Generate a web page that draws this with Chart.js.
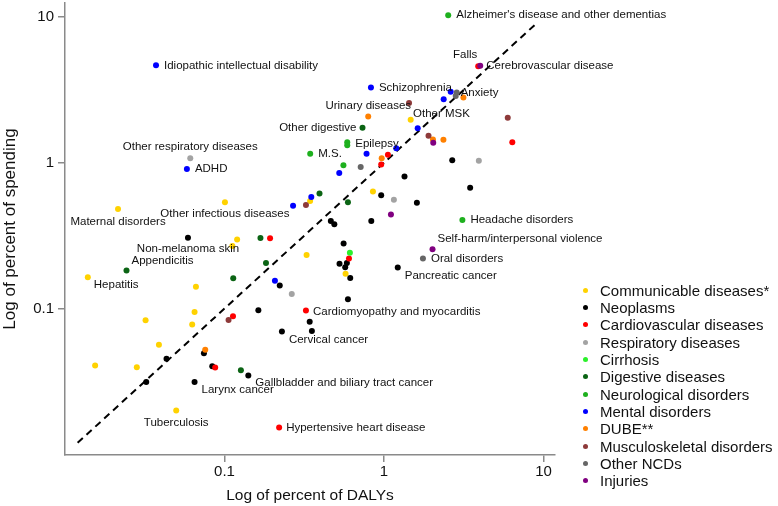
<!DOCTYPE html>
<html lang="en">
<head>
<meta charset="utf-8">
<title>Spending vs DALYs</title>
<script src="https://cdn.jsdelivr.net/npm/chart.js@4"></script>
<style>
  body { margin: 0; background: #fff; }
  .wrap { position: relative; width: 778px; height: 506px; overflow: hidden; }
  #legend {
    position: absolute; left: 578px; top: 281.5px; margin: 0; padding: 0; list-style: none;
    font: 15px "Liberation Sans", Arial, Helvetica, sans-serif; color: #111;
  }
  #legend li { display: flex; align-items: center; height: 17.35px; white-space: nowrap; }
  #legend .dot { width: 5px; height: 5px; border-radius: 50%; margin: 0 12.5px 0 4.5px; }
</style>
</head>
<body>
<div class="wrap">
  <canvas id="scatter"></canvas>
  <ul id="legend"></ul>
</div>

<script>
// categories and colours
const categories = ["Communicable diseases*", "Neoplasms", "Cardiovascular diseases", "Respiratory diseases",
  "Cirrhosis", "Digestive diseases", "Neurological disorders", "Mental disorders", "DUBE**",
  "Musculoskeletal disorders", "Other NCDs", "Injuries"];
const colors = ["#ffd200", "#000000", "#ff0000", "#a3a3a3", "#2bf02b", "#0b6414", "#1eb01e",
  "#0000ff", "#ff8000", "#8e3a3a", "#666666", "#800080"];

// percent of DALYs (x) and percent of spending (y), one pair of arrays per category
const communicableDalys = [0.1006, 0.0215, 0.0139, 0.0498, 0.120, 0.112, 0.327, 0.0662, 0.0649, 0.0320, 0.0627, 0.0388, 0.01545, 0.0282, 0.344, 0.852, 0.574, 1.469];
const communicableSpending = [0.536, 0.481, 0.164, 0.0200, 0.297, 0.268, 0.233, 0.141, 0.0948, 0.0832, 0.0778, 0.0565, 0.0406, 0.0396, 0.547, 0.634, 0.173, 1.968];

const neoplasmDalys = [0.0590, 0.141, 0.0649, 0.229, 1.219, 0.163, 0.222, 0.342, 0.353, 0.0743, 0.0433, 0.0838, 0.0323, 0.464, 0.488, 0.832, 0.960, 0.558, 0.526, 0.585, 0.571, 0.614, 0.594, 1.344, 1.607, 2.677, 3.467];
const neoplasmSpending = [0.306, 0.0348, 0.0313, 0.0697, 0.191, 0.0974, 0.144, 0.0811, 0.0700, 0.0493, 0.0453, 0.0402, 0.0313, 0.398, 0.378, 0.398, 0.598, 0.279, 0.203, 0.205, 0.192, 0.162, 0.116, 0.804, 0.531, 1.038, 0.673];

const cardioDalys = [3.895, 0.324, 0.220, 0.193, 0.113, 0.0874, 0.603, 1.058, 0.960, 6.37];
const cardioSpending = [4.59, 0.0969, 0.0153, 0.303, 0.0886, 0.0394, 0.220, 1.132, 0.971, 1.382];

const respiratoryDalys = [0.0610, 0.264, 1.153, 3.93];
const respiratorySpending = [1.075, 0.126, 0.558, 1.033];

const cirrhosisDalys = [0.611];
const cirrhosisSpending = [0.241];

const digestiveDalys = [0.733, 0.0243, 0.168, 0.182, 0.1134, 0.1267, 0.394, 0.594];
const digestiveSpending = [1.740, 0.182, 0.305, 0.205, 0.161, 0.0378, 0.614, 0.536];

const neuroDalys = [2.526, 0.3445, 0.588, 3.10, 0.588, 0.5565];
const neuroSpending = [10.26, 1.150, 1.382, 0.405, 1.318, 0.960];

const mentalDalys = [0.0372, 0.0581, 0.828, 2.618, 0.207, 0.350, 0.269, 0.777, 0.524, 1.193, 2.366, 1.626];
const mentalSpending = [4.65, 0.904, 3.277, 3.06, 0.155, 0.583, 0.506, 1.154, 0.849, 1.254, 2.72, 1.721];

const dubeDalys = [0.796, 0.0757, 0.967, 3.146, 2.026, 2.357];
const dubeSpending = [2.078, 0.0522, 1.075, 2.80, 1.441, 1.435];

const mskDalys = [1.435, 0.106, 0.324, 1.901, 5.966];
const mskSpending = [2.569, 0.0836, 0.512, 1.530, 2.03];

const otherNcdDalys = [1.754, 0.714, 2.856, 2.815];
const otherNcdSpending = [0.220, 0.936, 3.03, 2.868];

const injuryDalys = [4.01, 2.014, 1.105, 2.035];
const injurySpending = [4.63, 0.255, 0.442, 1.371];

// equal-share reference line (y = x)
const diagonal = [0.012, 9];

// axis ticks
const tickValues = [0.1, 1, 10];
const tickLabels = ["0.1", "1", "10"];

// labelled points: text, category index, point index
const labelText = ["Alzheimer's disease and other dementias", "Falls", "Cerebrovascular disease",
  "Idiopathic intellectual disability", "Schizophrenia", "Anxiety", "Urinary diseases", "Other MSK",
  "Other digestive", "Other respiratory diseases", "Epilepsy", "M.S.", "ADHD", "Other infectious diseases",
  "Maternal disorders", "Headache disorders", "Non-melanoma skin", "Self-harm/interpersonal violence",
  "Appendicitis", "Oral disorders", "Hepatitis", "Pancreatic cancer", "Cardiomyopathy and myocarditis",
  "Cervical cancer", "Gallbladder and biliary tract cancer", "Larynx cancer", "Tuberculosis",
  "Hypertensive heart disease"];
const labelSeries = [6, 11, 2, 7, 7, 7, 8, 9, 5, 3, 6, 6, 7, 0, 0, 6, 1, 11, 5, 10, 0, 1, 2, 1, 1, 1, 0, 2];
const labelPoint = [0, 0, 0, 0, 2, 3, 0, 0, 0, 0, 2, 1, 1, 0, 1, 3, 0, 1, 1, 0, 2, 4, 1, 3, 1, 2, 3, 2];

const seriesDalys = [communicableDalys, neoplasmDalys, cardioDalys, respiratoryDalys, cirrhosisDalys,
  digestiveDalys, neuroDalys, mentalDalys, dubeDalys, mskDalys, otherNcdDalys, injuryDalys];
const seriesSpending = [communicableSpending, neoplasmSpending, cardioSpending, respiratorySpending,
  cirrhosisSpending, digestiveSpending, neuroSpending, mentalSpending, dubeSpending, mskSpending,
  otherNcdSpending, injurySpending];

// label offsets from the point, in px: [dx, dy, align]
const labelPlacement = [
  [8, 0, "left"], [-15, -11, "center"], [8, 0, "left"], [8, 0, "left"], [8, 0, "left"], [10, 1, "left"],
  [0, -11, "center"], [4, 10.5, "left"], [-6, 0, "right"], [0, -11, "center"], [8, 2, "left"],
  [8, 0, "left"], [8, 0, "left"], [0, 12, "center"], [0, 13, "center"], [8, 0, "left"],
  [0, 11, "center"], [5, -10, "left"], [5, -10, "left"], [8, 0, "left"], [6, 8, "left"],
  [7, 8, "left"], [7, 1, "left"], [7, 8, "left"], [7, 7, "left"], [7, 8, "left"], [0, 12, "center"],
  [7, 0, "left"]
];

const FONT = '"Liberation Sans", Arial, Helvetica, sans-serif';
Chart.defaults.font.family = FONT;
Chart.defaults.color = "#111";

// text labels next to named points
const pointLabels = {
  id: "pointLabels",
  afterDatasetsDraw(chart) {
    const ctx = chart.ctx;
    ctx.save();
    ctx.font = "11.5px " + FONT;
    ctx.fillStyle = "#111";
    ctx.textBaseline = "middle";
    labelText.forEach((text, i) => {
      const el = chart.getDatasetMeta(labelSeries[i]).data[labelPoint[i]];
      const [dx, dy, align] = labelPlacement[i];
      ctx.textAlign = align;
      ctx.fillText(text, el.x + dx, el.y + dy);
    });
    ctx.restore();
  }
};

const datasets = categories.map((name, i) => ({
  label: name,
  data: seriesDalys[i].map((d, k) => ({x: d, y: seriesSpending[i][k]})),
  backgroundColor: colors[i],
  borderWidth: 0,
  pointRadius: 3,
  pointHoverRadius: 3,
  order: categories.length - i
}));
datasets.push({
  type: "line",
  label: "equal share",
  data: diagonal.map(v => ({x: v, y: v})),
  borderColor: "#000",
  borderWidth: 2,
  borderDash: [7, 5],
  pointRadius: 0,
  showLine: true,
  order: 99
});

const axisColor = "#8a8a8a";

new Chart(document.getElementById("scatter"), {
  type: "scatter",
  data: {datasets},
  options: {
    responsive: true,
    maintainAspectRatio: false,
    animation: false,
    layout: {padding: {top: 0, right: 223, bottom: 0, left: 0}},
    plugins: {
      legend: {display: false},
      tooltip: {enabled: false}
    },
    scales: {
      x: {
        type: "logarithmic",
        min: 0.01,
        max: 11.8,
        afterBuildTicks: s => { s.ticks = tickValues.map(v => ({value: v})); },
        afterFit: s => { s.height = 51; s.paddingLeft = 0; s.paddingRight = 0; },
        ticks: {
          callback: (v, i) => tickLabels[i],
          font: {size: 15},
          padding: 1,
          maxRotation: 0
        },
        grid: {drawOnChartArea: false, tickLength: 7, color: axisColor, lineWidth: 1.5},
        border: {color: axisColor, width: 1.5},
        title: {display: true, text: "Log of percent of DALYs", font: {size: 15.5}, padding: {top: 0, bottom: 1}}
      },
      y: {
        type: "logarithmic",
        min: 0.0099,
        max: 12.45,
        afterBuildTicks: s => { s.ticks = tickValues.map(v => ({value: v})); },
        afterFit: s => { s.width = 65; s.paddingTop = 0; s.paddingBottom = 0; },
        ticks: {
          callback: (v, i) => tickLabels[i],
          font: {size: 15},
          padding: 4
        },
        grid: {drawOnChartArea: false, tickLength: 7, color: axisColor, lineWidth: 1.5},
        border: {color: axisColor, width: 1.5},
        title: {display: true, text: "Log of percent of spending", font: {size: 17}, padding: 0}
      }
    }
  },
  plugins: [pointLabels]
});

// legend list, in category order
const legend = document.getElementById("legend");
categories.forEach((name, i) => {
  const li = document.createElement("li");
  const dot = document.createElement("span");
  dot.className = "dot";
  dot.style.background = colors[i];
  li.appendChild(dot);
  li.appendChild(document.createTextNode(name));
  legend.appendChild(li);
});
</script>
</body>
</html>
